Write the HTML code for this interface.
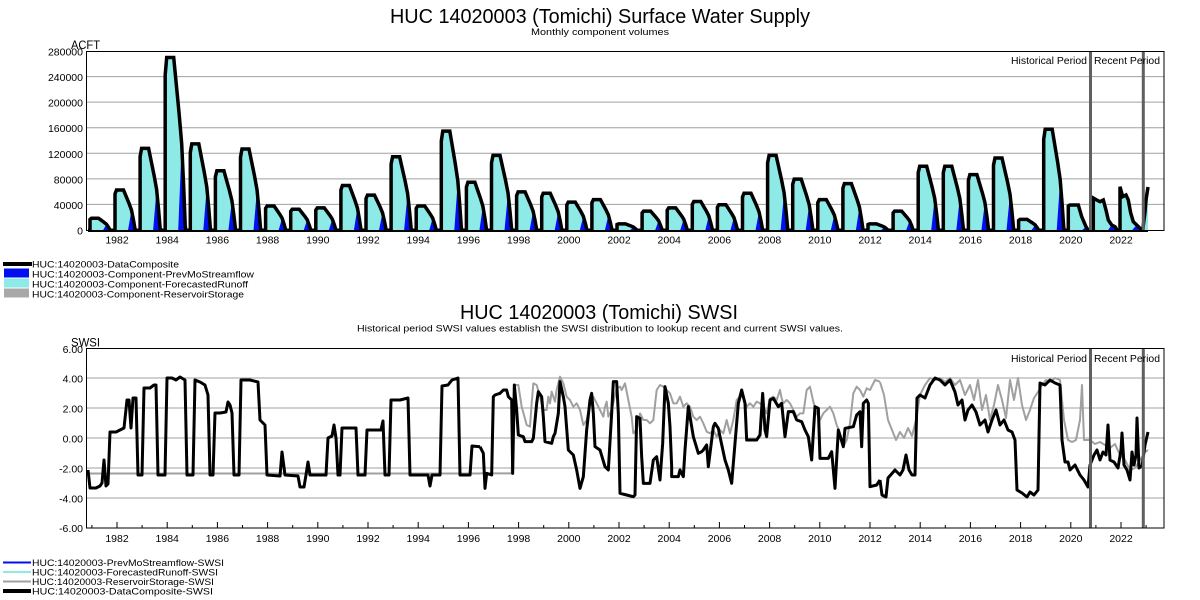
<!DOCTYPE html>
<html><head><meta charset="utf-8"><style>
html,body{margin:0;padding:0;background:#fff;}
svg{display:block;}
text{font-family:"Liberation Sans",Arial,sans-serif;fill:#000;}
</style></head><body>
<svg width="1200" height="600" viewBox="0 0 1200 600" xmlns="http://www.w3.org/2000/svg">
<defs>
<g id="h">
<polygon fill="#8EEAE6" points="-2,0 -2,-0.9 -0.5,-1 6.5,-1 9,-0.85 12,-0.67 14.5,-0.5 16.5,-0.25 18,-0.03 18.5,0"/>
<polygon fill="#0010F0" points="11,0 14.5,-0.5 16.5,-0.25 18,-0.03 18.5,0"/>
<polyline fill="none" stroke="#000" stroke-width="3.5" vector-effect="non-scaling-stroke" stroke-miterlimit="2" points="-2,0 -2,-0.9 -0.5,-1 6.5,-1 9,-0.85 12,-0.67 14.5,-0.5 16.5,-0.25 18,-0.03 18.5,0"/>
</g>
<clipPath id="c1"><rect x="86" y="51" width="1078" height="182"/></clipPath>
<clipPath id="c2"><rect x="86" y="348" width="1078" height="181"/></clipPath>
</defs>

<!-- Titles -->
<text x="390" y="23" font-size="20" textLength="420" lengthAdjust="spacingAndGlyphs">HUC 14020003 (Tomichi) Surface Water Supply</text>
<text x="531" y="35" font-size="9.5" textLength="138" lengthAdjust="spacingAndGlyphs">Monthly component volumes</text>

<!-- TOP CHART -->
<g stroke="#a0a0a0" stroke-width="1">
<line x1="86" y1="76.6" x2="1164" y2="76.6"/>
<line x1="86" y1="102.1" x2="1164" y2="102.1"/>
<line x1="86" y1="127.7" x2="1164" y2="127.7"/>
<line x1="86" y1="153.3" x2="1164" y2="153.3"/>
<line x1="86" y1="178.9" x2="1164" y2="178.9"/>
<line x1="86" y1="204.4" x2="1164" y2="204.4"/>
</g>
<text x="71" y="49" font-size="12" textLength="29" lengthAdjust="spacingAndGlyphs">ACFT</text>
<g font-size="10.5" text-anchor="end">
<text x="83" y="55.5">280000</text>
<text x="83" y="81">240000</text>
<text x="83" y="106.6">200000</text>
<text x="83" y="132.2">160000</text>
<text x="83" y="157.8">120000</text>
<text x="83" y="183.4">80000</text>
<text x="83" y="208.9">40000</text>
<text x="83" y="234.5">0</text>
</g>

<g clip-path="url(#c1)">
<line x1="88" y1="230.3" x2="1148" y2="230.3" stroke="#000" stroke-width="3.5"/>
<use href="#h" transform="translate(92,230.3) scale(1,12)"/>
<use href="#h" transform="translate(117,230.3) scale(1,40.3)"/>
<use href="#h" transform="translate(142.1,230.3) scale(1,81.9)"/>
<use href="#h" transform="translate(167.2,230.3) scale(1,172.8)"/>
<use href="#h" transform="translate(192.3,230.3) scale(1,86.4)"/>
<use href="#h" transform="translate(217.4,230.3) scale(1,59.5)"/>
<use href="#h" transform="translate(242.5,230.3) scale(1,81.3)"/>
<use href="#h" transform="translate(267.6,230.3) scale(1,24.3)"/>
<use href="#h" transform="translate(292.7,230.3) scale(1,21.1)"/>
<use href="#h" transform="translate(317.8,230.3) scale(1,22.4)"/>
<use href="#h" transform="translate(342.9,230.3) scale(1,44.8)"/>
<use href="#h" transform="translate(368,230.3) scale(1,35.2)"/>
<use href="#h" transform="translate(393.1,230.3) scale(1,73.6)"/>
<use href="#h" transform="translate(418.2,230.3) scale(1,24.3)"/>
<use href="#h" transform="translate(443.3,230.3) scale(1,99.2)"/>
<use href="#h" transform="translate(468.4,230.3) scale(1,48)"/>
<use href="#h" transform="translate(493.5,230.3) scale(1,74.9)"/>
<use href="#h" transform="translate(518.6,230.3) scale(1,38.4)"/>
<use href="#h" transform="translate(543.7,230.3) scale(1,37.1)"/>
<use href="#h" transform="translate(568.8,230.3) scale(1,28.2)"/>
<use href="#h" transform="translate(593.9,230.3) scale(1,30.7)"/>
<use href="#h" transform="translate(619,230.3) scale(1,6.4)"/>
<use href="#h" transform="translate(644.1,230.3) scale(1,19.2)"/>
<use href="#h" transform="translate(669.2,230.3) scale(1,22.4)"/>
<use href="#h" transform="translate(694.3,230.3) scale(1,28.8)"/>
<use href="#h" transform="translate(719.4,230.3) scale(1,25.6)"/>
<use href="#h" transform="translate(744.5,230.3) scale(1,37.1)"/>
<use href="#h" transform="translate(769.6,230.3) scale(1,74.9)"/>
<use href="#h" transform="translate(794.7,230.3) scale(1,51.2)"/>
<use href="#h" transform="translate(819.8,230.3) scale(1,30.7)"/>
<use href="#h" transform="translate(844.9,230.3) scale(1,46.7)"/>
<use href="#h" transform="translate(870,230.3) scale(1,6.4)"/>
<use href="#h" transform="translate(895.1,230.3) scale(1,19.2)"/>
<use href="#h" transform="translate(920.2,230.3) scale(1,64)"/>
<use href="#h" transform="translate(945.3,230.3) scale(1,64)"/>
<use href="#h" transform="translate(970.4,230.3) scale(1,55.7)"/>
<use href="#h" transform="translate(995.5,230.3) scale(1,72.3)"/>
<use href="#h" transform="translate(1020.6,230.3) scale(1,10.9)"/>
<use href="#h" transform="translate(1045.7,230.3) scale(1,101.1)"/>
<!-- 2020-2023 custom -->
<polygon fill="#8EEAE6" points="1068.3,230.3 1068.3,206 1070,205 1078.3,205 1081.7,216.7 1086,226.7 1088.3,230.3"/>
<polygon fill="#0010F0" points="1082,230.3 1086,226.7 1088.3,230.3"/>
<polyline fill="none" stroke="#000" stroke-width="3.5" points="1068.3,230.3 1068.3,206 1070,205 1078.3,205 1081.7,216.7 1086,226.7 1088.3,230.3"/>
<polygon fill="#8EEAE6" points="1093.3,230.3 1093.3,198 1096.7,200 1100,201.7 1103.3,200 1106,210 1108.3,220 1111.7,225 1115,226.7 1116.7,229.3 1117,230.3"/>
<polygon fill="#0010F0" points="1108,230.3 1111.7,225 1115,226.7 1116.7,229.3 1117,230.3"/>
<polyline fill="none" stroke="#000" stroke-width="3.5" points="1093.3,230.3 1093.3,198 1096.7,200 1100,201.7 1103.3,200 1106,210 1108.3,220 1111.7,225 1115,226.7 1116.7,229.3 1117,230.3"/>
<polygon fill="#8EEAE6" points="1120,230.3 1120,186.7 1122.7,196.7 1126,195 1128.3,200 1130.7,213 1133.3,221.7 1136.7,225 1140,228.3 1141.7,230.3"/>
<polygon fill="#0010F0" points="1132,230.3 1136.7,225 1140,228.3 1141.7,230.3"/>
<polyline fill="none" stroke="#000" stroke-width="3.5" points="1120,230.3 1120,186.7 1122.7,196.7 1126,195 1128.3,200 1130.7,213 1133.3,221.7 1136.7,225 1140,228.3 1141.7,230.3"/>
<polygon fill="#8EEAE6" points="1142.7,230.3 1145,212 1146,200 1148,187 1148,230.3"/>
<polyline fill="none" stroke="#000" stroke-width="3.5" points="1142.7,230.3 1145,212 1146,200 1148,187"/>
</g>
<g stroke="#606060" stroke-width="3">
<line x1="1090.5" y1="51" x2="1090.5" y2="230.5"/>
<line x1="1143.3" y1="51" x2="1143.3" y2="230.5"/>
</g>
<rect x="86.5" y="51.5" width="1077.5" height="179" fill="none" stroke="#000" stroke-width="1"/>
<text x="1011" y="64" font-size="10" textLength="76" lengthAdjust="spacingAndGlyphs">Historical Period</text>
<text x="1094" y="64" font-size="10" textLength="66" lengthAdjust="spacingAndGlyphs">Recent Period</text>
<g font-size="10.5" text-anchor="middle">
<text x="117" y="243.5">1982</text><text x="167.2" y="243.5">1984</text><text x="217.4" y="243.5">1986</text><text x="267.6" y="243.5">1988</text><text x="317.8" y="243.5">1990</text><text x="368" y="243.5">1992</text><text x="418.2" y="243.5">1994</text><text x="468.4" y="243.5">1996</text><text x="518.6" y="243.5">1998</text><text x="568.8" y="243.5">2000</text><text x="619" y="243.5">2002</text><text x="669.2" y="243.5">2004</text><text x="719.4" y="243.5">2006</text><text x="769.6" y="243.5">2008</text><text x="819.8" y="243.5">2010</text><text x="870" y="243.5">2012</text><text x="920.2" y="243.5">2014</text><text x="970.4" y="243.5">2016</text><text x="1020.6" y="243.5">2018</text><text x="1070.8" y="243.5">2020</text><text x="1121" y="243.5">2022</text>
</g>

<!-- top legend -->
<line x1="3" y1="264" x2="32" y2="264" stroke="#000" stroke-width="4"/>
<rect x="4" y="268.5" width="25" height="9" fill="#0010F0"/>
<rect x="4" y="278.5" width="25" height="9" fill="#8EEAE6"/>
<rect x="4" y="288.5" width="25" height="9" fill="#a8a8a8"/>
<g font-size="9.5">
<text x="32" y="267.5" textLength="147" lengthAdjust="spacingAndGlyphs">HUC:14020003-DataComposite</text>
<text x="32" y="277.5" textLength="222" lengthAdjust="spacingAndGlyphs">HUC:14020003-Component-PrevMoStreamflow</text>
<text x="32" y="287.5" textLength="216" lengthAdjust="spacingAndGlyphs">HUC:14020003-Component-ForecastedRunoff</text>
<text x="32" y="297.5" textLength="212" lengthAdjust="spacingAndGlyphs">HUC:14020003-Component-ReservoirStorage</text>
</g>

<!-- BOTTOM CHART -->
<text x="460" y="319" font-size="20" textLength="278" lengthAdjust="spacingAndGlyphs">HUC 14020003 (Tomichi) SWSI</text>
<text x="357" y="331.5" font-size="9.5" textLength="486" lengthAdjust="spacingAndGlyphs">Historical period SWSI values establish the SWSI distribution to lookup recent and current SWSI values.</text>
<text x="71" y="346.5" font-size="12" textLength="29" lengthAdjust="spacingAndGlyphs">SWSI</text>
<g stroke="#a0a0a0" stroke-width="1">
<line x1="86" y1="378" x2="1164" y2="378"/>
<line x1="86" y1="408" x2="1164" y2="408"/>
<line x1="86" y1="438" x2="1164" y2="438"/>
<line x1="86" y1="468" x2="1164" y2="468"/>
<line x1="86" y1="498" x2="1164" y2="498"/>
</g>
<g font-size="10.5" text-anchor="end">
<text x="83" y="353">6.00</text>
<text x="83" y="382.5">4.00</text>
<text x="83" y="412.5">2.00</text>
<text x="83" y="442.5">0.00</text>
<text x="83" y="472.5">-2.00</text>
<text x="83" y="502.5">-4.00</text>
<text x="83" y="532">-6.00</text>
</g>

<g clip-path="url(#c2)" fill="none" stroke-linejoin="round">
<!-- gray reservoir -->
<polyline stroke="#a0a0a0" stroke-width="2" points="88,473.5 480,473.5"/>
<g transform="translate(480,370) scale(0.333333)">
<path stroke="#a0a0a0" stroke-width="6" d="M0,310 L95,310 L105,45 L115,45 L125,110 L140,165 L150,170 L155,100 L160,40 L170,45 L180,80 L190,120 L200,120 L205,80 L210,100 L215,65 L225,95 L230,60 L240,20 L250,40 L260,80 L270,90 L280,110 L290,100 L300,120 L310,165 L320,150 L330,100 L340,80 L350,100 L360,120 L370,140 L375,110 L380,95 L385,140 L395,120 L410,55 L420,50 L425,60 L435,40 L445,90 L455,140 L460,190 L470,180 L480,130 L490,150 L500,150 L510,160 L520,150 L530,60 L540,45 L550,50 L560,60 L570,70 L580,100 L590,100 L600,80 L610,110 L620,100 L630,110 L640,140 L650,150 L660,140 L670,160 L680,185 L690,190 L700,180 L710,200 L720,180 L730,190 L740,150 L750,190 L760,150 L770,90 L780,80 L790,80 L800,110 L810,100 L820,110 L830,95 L840,100 L850,110 L860,130 L870,85 L880,80 L890,90 L900,60 L905,85 L910,100 L920,90 L930,100 L940,120 L950,140 L960,130 L970,130 L980,60 L990,50 L1000,95 L1010,130 L1020,150 L1030,130 L1040,120 L1050,110 L1060,130 L1070,165 L1080,190 L1090,230 L1100,210 L1110,160 L1120,70 L1130,50 L1140,60 L1150,80 L1160,55 L1170,60 L1185,30 L1200,35"/>
</g>
<polyline stroke="#a0a0a0" stroke-width="2" points="880,382 884,395 888,420 892,430 896,440 900,432 904,438 908,428 912,436 916,420 920,395 925,385 930,378 935,380 940,378 945,382 950,378 955,385 960,380 965,395 970,385 974,400 978,380 982,410 986,395 990,420 994,405 998,385 1002,400 1006,418 1010,380 1014,400 1018,378 1022,405 1026,420 1030,410 1034,398 1038,392 1042,385 1046,380 1050,382 1055,378 1060,380 1064,420 1068,440 1072,442 1076,440 1080,420 1082,385 1084,440 1090,440 1095,444 1100,442 1105,445 1110,448 1115,444 1120,455 1125,460 1130,470 1135,468 1140,460 1145,452 1148,450"/>
<!-- black composite -->
<polyline stroke="#000" stroke-width="3" points="88,470 90,488 96,488 100,486 102,483 104,460 106,486 108,484 110,432 116,432 120,430 124,428 127,400 129,400 131,428 133,398 136,398 138,475 142,475 144,388 150,388 154,385 156,385 158,475 165,475 167,378 172,378 176,380 180,377 185,380 187,475 193,475 195,380 200,382 205,385 208,395 210,475 213,475 215,413 220,413 226,412 228,402 230,405 232,413 234,475 239,475 241,380 250,380 258,382 260,420 265,425 267,475 280,476 282,452 285,475 298,476 300,487 304,487 306,475 308,462 310,475 326,475 328,438 332,436 334,425 336,438 338,475 340,475 342,428 350,428 356,428 358,475 365,475 367,430 375,430 381,430 383,421 385,475 389,475 391,400 400,400 408,398 410,475 428,475 430,486 432,475 440,475 442,386 448,385 452,380 458,378 460,475 470,475 472,446 480,446.7"/>
<g transform="translate(480,370) scale(0.333333)">
<path stroke="#000" stroke-width="9" d="M0,230 L10,250 L15,355 L20,310 L35,315 L40,80 L45,75 L60,70 L70,60 L80,60 L85,80 L95,90 L98,310 L103,45 L110,120 L115,195 L130,200 L135,215 L155,215 L160,205 L170,100 L175,65 L185,80 L190,140 L195,215 L215,220 L220,200 L225,190 L235,130 L240,35 L250,80 L255,110 L265,240 L280,255 L290,300 L300,355 L310,320 L320,180 L330,90 L335,70 L340,130 L345,230 L360,240 L375,290 L385,300 L395,130 L400,35 L410,35 L415,130 L420,370 L440,375 L460,380 L465,375 L470,140 L480,145 L485,260 L490,340 L510,340 L520,270 L530,260 L540,330 L548,220 L555,50 L565,100 L570,170 L575,290 L575,320 L595,320 L600,300 L610,320 L615,240 L625,110 L630,140 L640,200 L655,250 L665,245 L670,240 L680,225 L685,290 L700,170 L705,160 L715,175 L720,200 L735,270 L745,300 L755,340 L765,220 L775,100 L785,60 L795,100 L800,210 L830,210 L840,195 L848,70 L855,180 L860,200 L870,90 L880,85 L895,110 L905,100 L915,200 L925,125 L940,125 L950,150 L965,155 L975,180 L985,200 L995,270 L1005,110 L1015,115 L1020,265 L1045,265 L1055,245 L1065,355 L1075,180 L1090,230 L1095,175 L1120,170 L1130,135 L1140,125 L1145,230 L1150,100 L1160,90 L1165,100 L1170,350 L1190,345 L1200,330"/>
</g>
<polyline stroke="#000" stroke-width="3" points="880,480 882,495 886,497 888,478 895,470 900,475 903,470 906,455 909,470 912,475 915,475 917,398 920,395 925,398 930,385 935,378 940,380 945,385 950,380 955,392 958,405 962,400 965,420 968,410 972,405 976,412 980,425 985,420 988,432 992,420 996,410 1000,425 1004,420 1008,430 1012,432 1015,440 1017,490 1022,493 1027,497 1030,492 1034,495 1038,490 1040,383 1045,385 1050,380 1055,383 1060,385 1062,440 1065,462 1068,462 1070,470 1075,465 1080,475 1084,480 1088,487 1090,465 1094,455 1097,450 1100,460 1103,452 1106,455 1108,425 1110,460 1114,462 1118,468 1121,450 1122,433 1124,465 1127,470 1130,480 1132,452 1134,465 1136,455 1137,418 1139,468 1142,466 1145,445 1148,432"/>
</g>
<g stroke="#606060" stroke-width="3">
<line x1="1090.5" y1="348" x2="1090.5" y2="528"/>
<line x1="1143.3" y1="348" x2="1143.3" y2="528"/>
</g>
<rect x="86.5" y="348.5" width="1077.5" height="179.5" fill="none" stroke="#000" stroke-width="1"/>
<text x="1011" y="362" font-size="10" textLength="76" lengthAdjust="spacingAndGlyphs">Historical Period</text>
<text x="1094" y="362" font-size="10" textLength="66" lengthAdjust="spacingAndGlyphs">Recent Period</text>
<path stroke="#000" stroke-width="1" d="M91.9,528V525 M117,528V522 M142.1,528V525 M167.2,528V522 M192.3,528V525 M217.4,528V522 M242.5,528V525 M267.6,528V522 M292.7,528V525 M317.8,528V522 M342.9,528V525 M368,528V522 M393.1,528V525 M418.2,528V522 M443.3,528V525 M468.4,528V522 M493.5,528V525 M518.6,528V522 M543.7,528V525 M568.8,528V522 M593.9,528V525 M619,528V522 M644.1,528V525 M669.2,528V522 M694.3,528V525 M719.4,528V522 M744.5,528V525 M769.6,528V522 M794.7,528V525 M819.8,528V522 M844.9,528V525 M870,528V522 M895.1,528V525 M920.2,528V522 M945.3,528V525 M970.4,528V522 M995.5,528V525 M1020.6,528V522 M1045.7,528V525 M1070.8,528V522 M1095.9,528V525 M1121,528V522 M1146.1,528V525"/>
<g font-size="10.5" text-anchor="middle">
<text x="117" y="542">1982</text><text x="167.2" y="542">1984</text><text x="217.4" y="542">1986</text><text x="267.6" y="542">1988</text><text x="317.8" y="542">1990</text><text x="368" y="542">1992</text><text x="418.2" y="542">1994</text><text x="468.4" y="542">1996</text><text x="518.6" y="542">1998</text><text x="568.8" y="542">2000</text><text x="619" y="542">2002</text><text x="669.2" y="542">2004</text><text x="719.4" y="542">2006</text><text x="769.6" y="542">2008</text><text x="819.8" y="542">2010</text><text x="870" y="542">2012</text><text x="920.2" y="542">2014</text><text x="970.4" y="542">2016</text><text x="1020.6" y="542">2018</text><text x="1070.8" y="542">2020</text><text x="1121" y="542">2022</text>
</g>

<!-- bottom legend -->
<line x1="3" y1="562.5" x2="31" y2="562.5" stroke="#0010F0" stroke-width="2"/>
<line x1="3" y1="572" x2="31" y2="572" stroke="#8EEAE6" stroke-width="2"/>
<line x1="3" y1="581.5" x2="31" y2="581.5" stroke="#a0a0a0" stroke-width="2"/>
<line x1="3" y1="591" x2="31" y2="591" stroke="#000" stroke-width="4"/>
<g font-size="9.5">
<text x="32" y="566" textLength="192" lengthAdjust="spacingAndGlyphs">HUC:14020003-PrevMoStreamflow-SWSI</text>
<text x="32" y="575.5" textLength="186" lengthAdjust="spacingAndGlyphs">HUC:14020003-ForecastedRunoff-SWSI</text>
<text x="32" y="585" textLength="182" lengthAdjust="spacingAndGlyphs">HUC:14020003-ReservoirStorage-SWSI</text>
<text x="32" y="594.5" textLength="181" lengthAdjust="spacingAndGlyphs">HUC:14020003-DataComposite-SWSI</text>
</g>
</svg>
</body></html>
